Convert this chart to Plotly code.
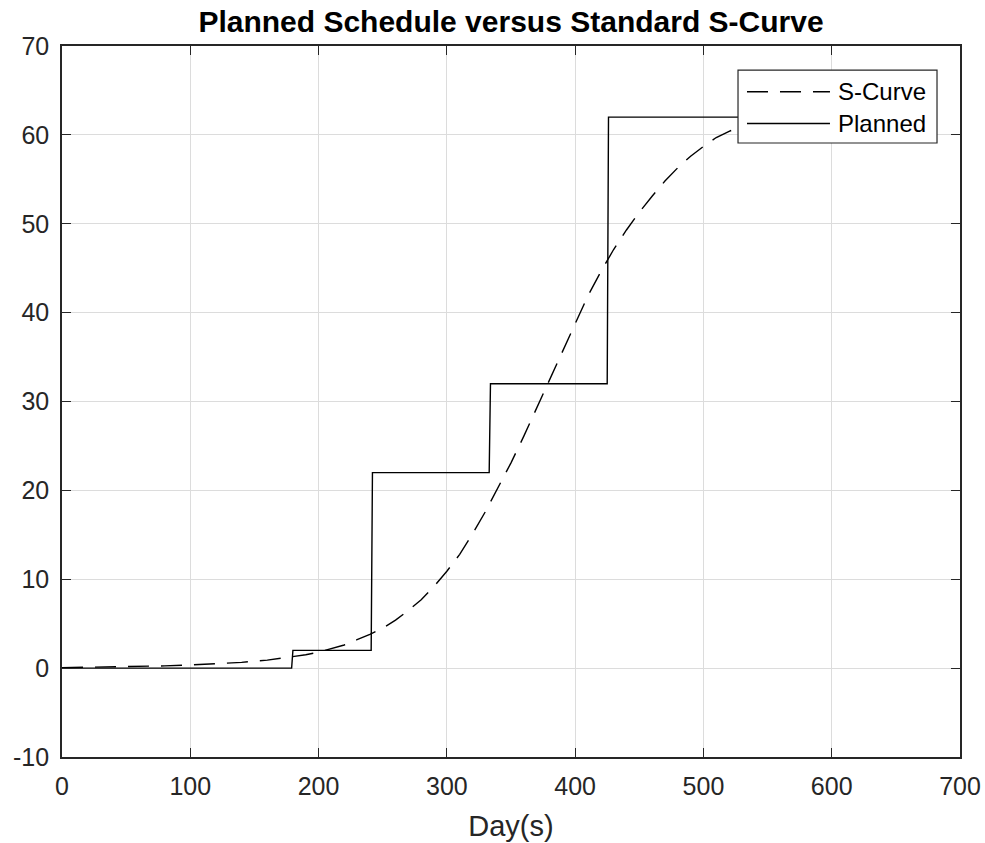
import plotly.graph_objects as go

# Planned schedule: cumulative planned quantity, stepping up at milestones
planned_days = [0, 179, 180, 241, 242, 333, 334, 425, 426, 527]
planned_vals = [0, 0, 2, 2, 22, 22, 32, 32, 62, 62]

# Standard S-curve (cumulative)
scurve_days = [0, 20, 40, 60, 80, 100, 120, 140, 160, 180, 190, 200, 210, 220,
               230, 240, 250, 260, 270, 280, 290, 300, 310, 320, 330, 340, 350,
               360, 370, 380, 390, 400, 410, 420, 430, 440, 450, 460, 470, 480,
               490, 500, 510, 520, 527]
scurve_vals = [0.05, 0.08, 0.12, 0.17, 0.25, 0.36, 0.5, 0.65, 0.9, 1.28, 1.5,
               1.8, 2.2, 2.6, 3.2, 3.8, 4.5, 5.4, 6.5, 7.7, 9.2, 10.9, 12.8,
               15.1, 17.6, 20.3, 23.1, 26.1, 29.3, 32.5, 35.7, 38.9, 41.9,
               44.6, 47.1, 49.3, 51.3, 53.1, 54.8, 56.3, 57.6, 58.7, 59.7,
               60.4, 60.8]

x_ticks = [0, 100, 200, 300, 400, 500, 600, 700]
x_labels = ["0", "100", "200", "300", "400", "500", "600", "700"]
y_ticks = [-10, 0, 10, 20, 30, 40, 50, 60, 70]
y_labels = ["-10", "0", "10", "20", "30", "40", "50", "60", "70"]

FONT = "Liberation Sans, Arial, sans-serif"
AX = "#262626"
GRID = "#dcdcdc"
DASH = "21px,12px"

fig = go.Figure()
fig.add_trace(go.Scatter(x=scurve_days, y=scurve_vals, mode="lines", name="S-Curve",
                         line=dict(color="black", width=1.4, dash=DASH)))
fig.add_trace(go.Scatter(x=planned_days, y=planned_vals, mode="lines", name="Planned",
                         line=dict(color="black", width=1.4)))

axis_common = dict(
    showgrid=True, gridcolor=GRID, gridwidth=1, zeroline=False,
    showline=True, linecolor=AX, linewidth=1.6, mirror="ticks",
    ticks="inside", ticklen=9, tickcolor=AX, tickwidth=1.4,
    tickfont=dict(family=FONT, size=25, color=AX),
)

fig.update_xaxes(range=[0, 700], tickvals=x_ticks, ticktext=x_labels,
                 ticklabelstandoff=6, **axis_common,
                 title=dict(text="Day(s)", font=dict(family=FONT, size=29, color=AX),
                            standoff=17))
fig.update_yaxes(range=[-10, 70], tickvals=y_ticks, ticktext=y_labels,
                 ticklabelstandoff=6, **axis_common)

# Legend box drawn in paper coordinates
lx0, lx1, ly0, ly1 = 0.7528, 0.9744, 0.8636, 0.9662
rows = [("S-Curve", 0.9357, DASH), ("Planned", 0.8910, "solid")]
fig.add_shape(type="rect", xref="paper", yref="paper", x0=lx0, x1=lx1, y0=ly0, y1=ly1,
              line=dict(color=AX, width=1.2), fillcolor="white", layer="above")
for label, yy, dash in rows:
    fig.add_shape(type="line", xref="paper", yref="paper", x0=0.7628, x1=0.8552,
                  y0=yy, y1=yy, line=dict(color="black", width=1.4, dash=dash),
                  layer="above")
    fig.add_annotation(xref="paper", yref="paper", x=0.8619, y=yy, text=label,
                       showarrow=False, xanchor="left", yanchor="middle",
                       font=dict(family=FONT, size=24, color="black"))

fig.update_layout(
    width=985, height=843,
    margin=dict(l=62, r=25, t=46, b=86, autoexpand=False),
    paper_bgcolor="white", plot_bgcolor="white",
    showlegend=False,
    title=dict(text="Planned Schedule versus Standard S-Curve",
               font=dict(family=FONT, size=30, color="black", weight="bold"),
               x=0.5, xref="paper", xanchor="center",
               y=1 - 21 / 843, yanchor="middle"),
)

fig.write_html("out.html")
